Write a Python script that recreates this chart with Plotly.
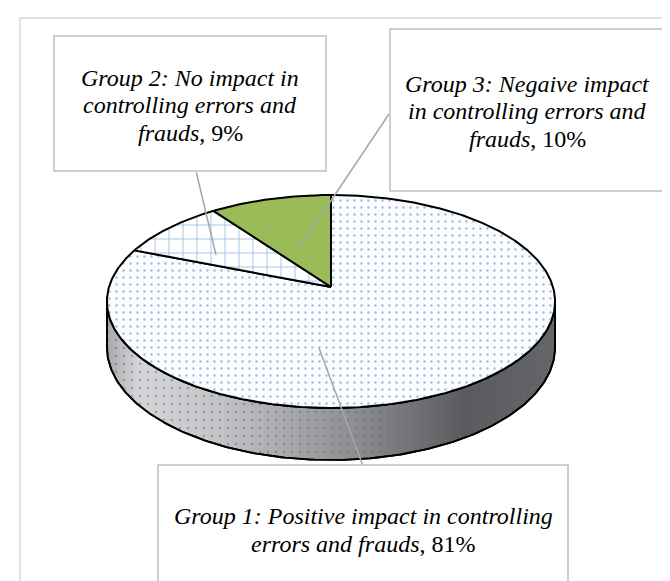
import numpy as np
import plotly.graph_objects as go

# ---- data ----
categories = [
    "Group 1: Positive impact in controlling errors and frauds",
    "Group 2: No impact in controlling errors and frauds",
    "Group 3: Negaive impact in controlling errors and frauds",
]
values = [81, 9, 10]
label_lines = [
    ["Group 1: Positive impact in controlling", "errors and frauds"],
    ["Group 2: No impact in", "controlling errors and", "frauds"],
    ["Group 3: Negaive impact", "in controlling errors and", "frauds"],
]

# ---- geometry of the 3D pie (layout, not data) ----
W, H = 670, 581
CX, CY = 323, 279             # centre of top face
R, RY, P = 222, 104.5, 0.136  # radius, vertical radius, perspective
DEPTH = 45

def proj(theta, f=1.0, drop=0.0):
    th = np.radians(theta)
    u = np.sin(th) * f
    v = -np.cos(th) * f
    s = 1.0 / (1.0 - P * v)
    return CX + R * u * s, CY + RY * v * s + drop * s

fig = go.Figure()

# side wall (visible front part)
t_sil = np.degrees(np.arccos(-P))
ts = np.linspace(t_sil, 360 - t_sil, 200)
xt, yt = proj(ts)
xb, yb = proj(ts[::-1], drop=DEPTH)
sx = np.concatenate([xt, xb, xt[:1]])
sy = np.concatenate([yt, yb, yt[:1]])
fig.add_trace(go.Scatter(
    x=sx, y=sy, mode="lines", fill="toself",
    fillgradient=dict(type="horizontal",
                      colorscale=[[0, "#a8a8a8"], [0.07, "#d6d6d6"], [0.25, "#c4c4c4"],
                                  [0.55, "#8e8e8e"], [0.8, "#5a5a5a"], [1, "#666666"]]),
    line=dict(color="black", width=1.8), hoverinfo="skip", showlegend=False))
fig.add_trace(go.Scatter(
    x=sx, y=sy, mode="lines", fill="toself", fillcolor="rgba(0,0,0,0)",
    fillpattern=dict(shape=".", fgcolor="#3f6fb0", bgcolor="rgba(0,0,0,0)",
                     size=8, solidity=0.08),
    line=dict(color="black", width=1.8), hoverinfo="skip", showlegend=False))

# top face slices, clockwise from 12 o'clock
styles = [
    dict(fillcolor="#fbfcfe",
         fillpattern=dict(shape=".", fgcolor="#4472c4", bgcolor="#fbfcfe", size=7, solidity=0.09)),
    dict(fillcolor="#ffffff",
         fillpattern=dict(shape="+", fgcolor="#4a7cc8", bgcolor="#ffffff", size=14, solidity=0.13)),
    dict(fillcolor="#9bbb59"),
]
cum = np.concatenate([[0], np.cumsum(values)]) / np.sum(values) * 360.0
for i, cat in enumerate(categories):
    a0, a1 = cum[i], cum[i + 1]
    arc = np.linspace(a0, a1, max(int((a1 - a0) * 1.5), 10))
    ax_, ay_ = proj(arc)
    px = np.concatenate([[CX], ax_, [CX]])
    py = np.concatenate([[CY], ay_, [CY]])
    fig.add_trace(go.Scatter(
        x=px, y=py, mode="lines", fill="toself", name=cat,
        line=dict(color="black", width=2), hoverinfo="name", showlegend=False,
        **styles[i]))

# ---- label boxes (layout) ----
font = dict(family="Liberation Serif, Times New Roman, serif", size=24, color="black")
LINE_H = 27.5
boxes = [  # x0, y0, x1, y1
    (150, 457, 560, 590),
    (46, 28, 318, 163),
    (382, 21, 657, 183),
]
text_center_y = [522, 97, 103]
leaders = [
    ((355, 458), (311, 340)),
    ((188, 163), (208, 247)),
    ((382, 104.5), (292, 239)),
]
for i in range(len(categories)):
    x0, y0, x1, y1 = boxes[i]
    fig.add_shape(type="rect", x0=x0, y0=y0, x1=x1, y1=y1, xref="x", yref="y",
                  line=dict(color="#bfbfbf", width=1.5), fillcolor="rgba(0,0,0,0)",
                  layer="above")
    (tx, ty), (hx, hy) = leaders[i]
    fig.add_annotation(x=hx, y=hy, ax=tx, ay=ty, xref="x", yref="y",
                       axref="x", ayref="y", text="", showarrow=True,
                       arrowhead=0, arrowwidth=1.5, arrowcolor="#a6a6a6")
    lines = label_lines[i]
    n = len(lines)
    for k, ln in enumerate(lines):
        txt = f"<i>{ln}</i>" + (f", {values[i]}%" if k == n - 1 else "")
        fig.add_annotation(x=(x0 + x1) / 2, y=text_center_y[i] + (k - (n - 1) / 2) * LINE_H,
                           xref="x", yref="y", showarrow=False, text=txt, font=font,
                           xanchor="center", yanchor="middle")

# outer chart frame
fig.add_shape(type="rect", x0=12, y0=10, x1=690, y1=600, xref="x", yref="y",
              line=dict(color="#d9d9d9", width=1.5), layer="below")

fig.update_layout(
    width=W, height=H, margin=dict(l=0, r=0, t=0, b=0),
    paper_bgcolor="white", plot_bgcolor="white",
    xaxis=dict(range=[0, W], visible=False, fixedrange=True),
    yaxis=dict(range=[H, 0], visible=False, fixedrange=True),
    showlegend=False,
)
fig.write_html("out.html")
